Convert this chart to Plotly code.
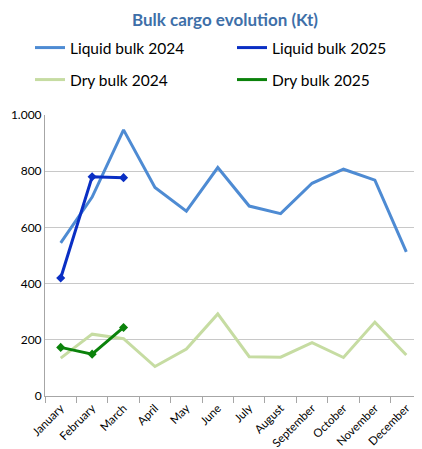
import plotly.graph_objects as go

# Data
months = ['January', 'February', 'March', 'April', 'May', 'June', 'July',
          'August', 'September', 'October', 'November', 'December']
liquid_2024 = [545, 708, 947, 742, 658, 813, 676, 649, 757, 807, 768, 513]
liquid_2025 = [420, 780, 777]
dry_2024 = [135, 220, 204, 105, 167, 292, 140, 138, 190, 137, 263, 146]
dry_2025 = [173, 149, 244]

font_family = 'Lato, "Open Sans", sans-serif'

series = [
    ('Liquid bulk 2024', liquid_2024, '#4E8BD3', False, 'legend'),
    ('Liquid bulk 2025', liquid_2025, '#0A2FC4', True, 'legend2'),
    ('Dry bulk 2024', dry_2024, '#C6DCA2', False, 'legend3'),
    ('Dry bulk 2025', dry_2025, '#0B820B', True, 'legend4'),
]

fig = go.Figure()
for name, values, color, diamonds, legend_id in series:
    fig.add_trace(go.Scatter(
        x=months[:len(values)], y=values, name=name, mode='lines',
        line=dict(color=color, width=3), legend=legend_id
    ))
    # markers as a separate trace so the legend shows a plain line
    if diamonds:
        fig.add_trace(go.Scatter(
            x=months[:len(values)], y=values, mode='markers', showlegend=False,
            marker=dict(symbol='diamond', size=7, color=color), hoverinfo='skip'
        ))

# the page body has an 8px margin, so the figure is 8px smaller and all
# pixel positions below are in figure coordinates
W, H = 414, 441
plot_top, plot_bottom, plot_left = 107, 388, 37
plot_width = W - plot_left

# one legend box per entry so the 2x2 grid can be placed exactly
def leg(px_x, px_y):
    return dict(
        xanchor='left', yanchor='middle',
        x=(px_x - plot_left) / plot_width,
        y=(plot_bottom - px_y) / (plot_bottom - plot_top),
        font=dict(family=font_family, size=15.5, color='#000000'),
        bgcolor='rgba(0,0,0,0)', itemclick=False, itemdoubleclick=False
    )

fig.update_layout(
    width=W, height=H,
    margin=dict(l=plot_left, r=0, t=plot_top, b=H - plot_bottom, autoexpand=False),
    paper_bgcolor='white', plot_bgcolor='white',
    separators=',.',
    showlegend=True,
    title=dict(text='<b>Bulk cargo evolution (Kt)</b>', x=217 / W, xanchor='center',
               y=1 - 12 / H, yanchor='middle',
               font=dict(family=font_family, size=17, color='#3E6FA8')),
    font=dict(family=font_family, size=12, color='#000000'),
    legend=leg(22, 40),
    legend2=leg(224, 40),
    legend3=leg(22, 72),
    legend4=leg(224, 72),
    xaxis=dict(
        range=[-0.5, len(months) - 0.5],
        showgrid=False, showline=True, linecolor='#A6A6A6', linewidth=1,
        ticks='outside', tickson='boundaries', ticklen=6, tickcolor='#A6A6A6',
        tickangle=-45, tickfont=dict(size=11.5), automargin=False,
    ),
    yaxis=dict(
        range=[0, 1000], tickvals=[0, 200, 400, 600, 800, 1000], tickformat=',d',
        showgrid=True, gridcolor='#C8C8C8', gridwidth=1,
        showline=True, linecolor='#A6A6A6', linewidth=1,
        zeroline=False, ticks='', tickfont=dict(size=12), automargin=False,
    ),
)

fig.write_html("out.html")
